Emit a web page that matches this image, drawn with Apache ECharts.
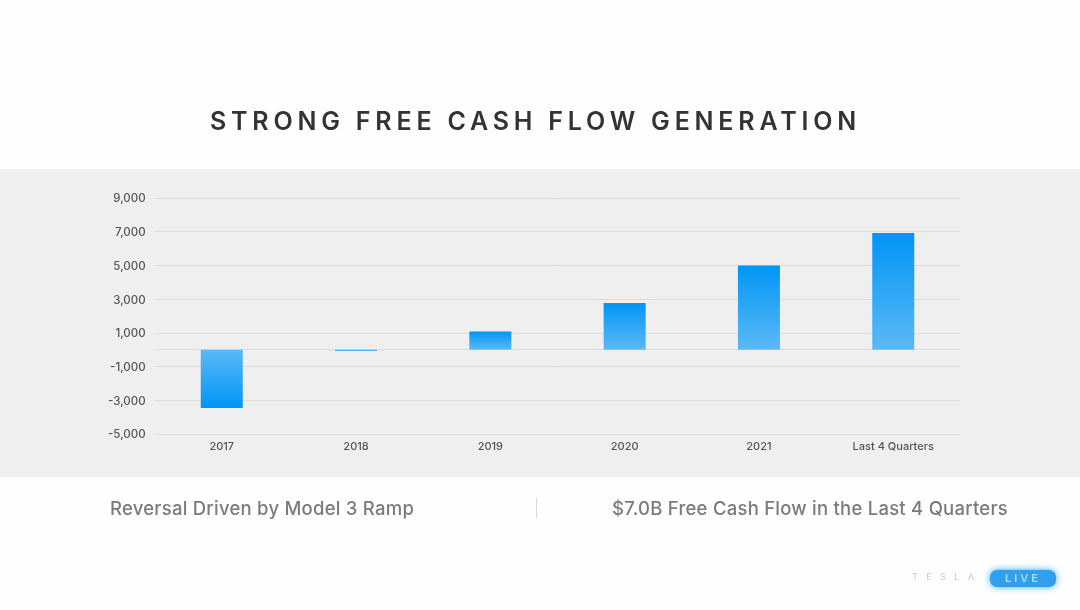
<!DOCTYPE html>
<html><head><meta charset="utf-8">
<style>
html,body{margin:0;padding:0;background:#fefefe;width:1080px;height:610px;overflow:hidden}
#c{position:absolute;left:0;top:0;width:1080px;height:610px}
.t{position:absolute;white-space:nowrap;font-family:Inter,sans-serif}
#title{left:0;width:1071px;text-align:center;top:103.5px;font-size:25px;line-height:34px;font-weight:600;letter-spacing:4.8px;color:#333}
.cap{font-size:18.5px;line-height:26px;top:495px;color:#7b7b7b;font-weight:500;letter-spacing:.24px}
#tesla{left:912px;top:571px;font-size:9px;line-height:12px;letter-spacing:8.4px;color:#d2d2d2;font-weight:500}
#live{left:990px;top:570px;width:66px;height:17px;line-height:17px;text-align:center;font-size:11px;font-weight:600;letter-spacing:3px;color:#a9dcfb}
</style></head><body>
<div id="c"></div>
<div class="t" id="title">STRONG FREE CASH FLOW GENERATION</div>
<div class="t cap" style="left:110px">Reversal Driven by Model 3 Ramp</div>
<div class="t cap" style="left:612px">$7.0B Free Cash Flow in the Last 4 Quarters</div>
<div class="t" id="tesla">TESLA</div>
<div class="t" id="live">LIVE</div>
<script src="https://cdn.jsdelivr.net/npm/echarts@6/dist/echarts.min.js"></script>
<script>
const categories=["2017","2018","2019","2020","2021","Last 4 Quarters"];
const freeCashFlow=[-3460,-60,1080,2770,5000,6930];
const tickLabels=[-5000,-3000,-1000,1000,3000,5000,7000,9000];
const gridValues=[-5000,-3000,-1000,0,1000,3000,5000,7000,9000];
const dark="#0095f6",light="#5cb9f5";
const grad=(a,b)=>({type:"linear",x:0,y:0,x2:0,y2:1,colorStops:[{offset:0,color:a},{offset:1,color:b}]});
const chart=echarts.init(document.getElementById("c"));
chart.setOption({
 animation:false,
 backgroundColor:"transparent",
 grid:{left:154.6,right:119.6,top:198,bottom:176},
 xAxis:{type:"category",data:categories,position:"bottom",
  axisLine:{show:false,onZero:false},axisTick:{show:false},
  axisLabel:{color:"#555",fontSize:11,fontWeight:500,fontFamily:"Inter",margin:7,interval:0}},
 yAxis:{type:"value",min:-5000,max:9000,interval:1000,
  axisLine:{show:false},
  axisTick:{show:false,customValues:gridValues},
  axisLabel:{customValues:tickLabels,color:"#555",fontSize:11.5,fontWeight:500,fontFamily:"Inter",margin:9,
    rich:{v:{padding:[2,0,0,0],fontSize:11.5,fontWeight:500,fontFamily:"Inter",color:"#555"}},
    formatter:v=>"{v|"+v.toLocaleString("en-US")+"}"},
  splitLine:{show:true,lineStyle:{color:"#dcdcdc",width:1}}},
 graphic:[
  {type:"rect",z:-10,silent:true,shape:{x:0,y:169,width:1080,height:308},style:{fill:"#efefef"}},
  {type:"rect",shape:{x:536,y:498,width:1,height:20},style:{fill:"#d8d8d8"}},
  {type:"rect",shape:{x:990,y:570,width:66,height:17,r:7},style:{fill:"#2f9fee",shadowColor:"#35a8f5",shadowBlur:7}}
 ],
 series:[{type:"bar",barWidth:42,
  data:freeCashFlow.map(v=>({value:v,itemStyle:{color:v<0?grad(light,dark):grad(dark,light)}}))}]
});
</script>
</body></html>
